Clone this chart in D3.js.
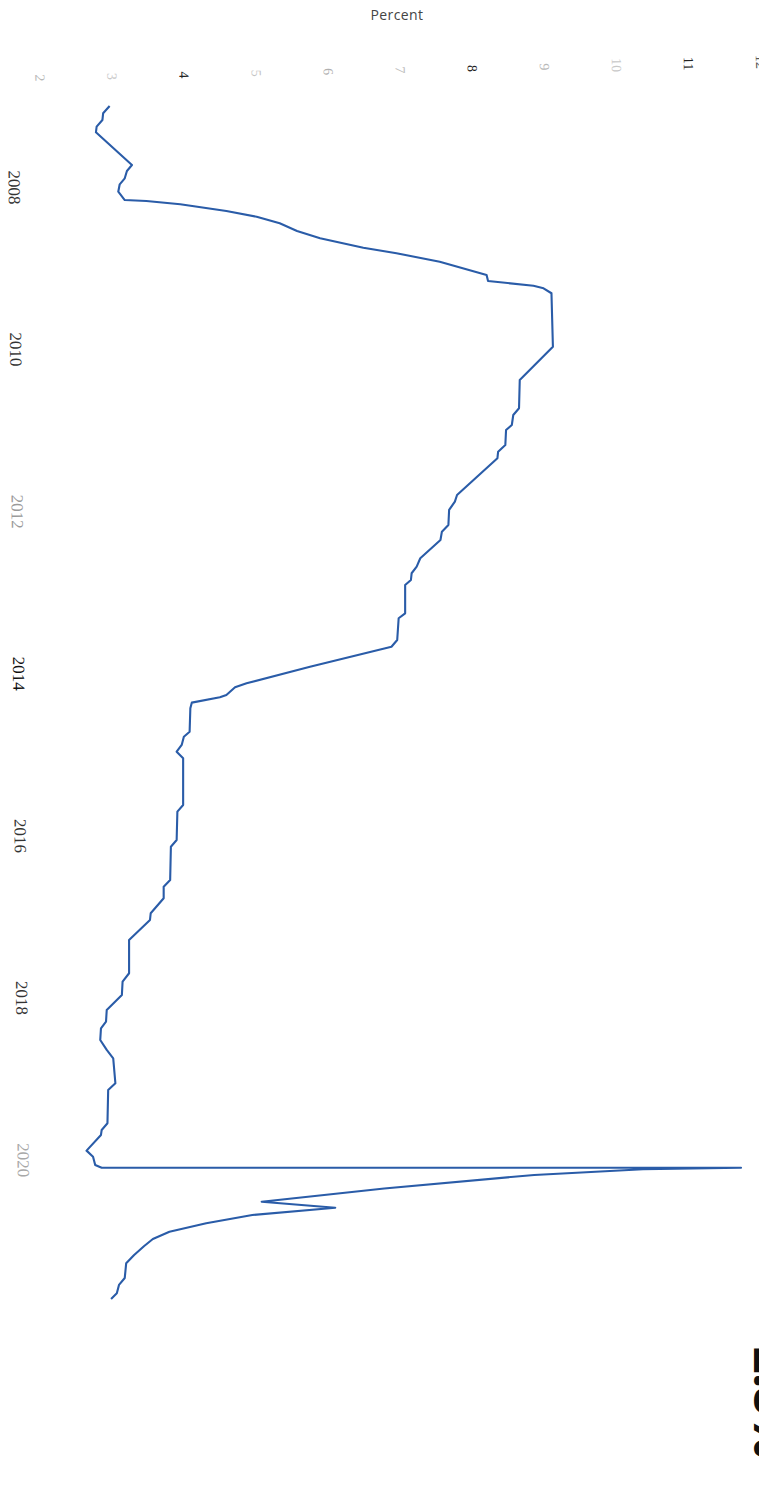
<!DOCTYPE html>
<html><head><meta charset="utf-8">
<script src="https://cdn.jsdelivr.net/npm/d3@7"></script>
<style>body{margin:0;background:#fff}svg{display:block}</style>
</head><body><svg id="c" width="759" height="1500"></svg>
<script>
// ---- data ----
const years = [2007.002, 2007.092, 2007.175, 2007.257, 2007.327, 2007.730, 2007.804, 2007.894, 2007.968, 2008.059,
  2008.162, 2008.174, 2008.215, 2008.297, 2008.368, 2008.449, 2008.544, 2008.634, 2008.750, 2008.819,
  2008.923, 2009.087, 2009.161, 2009.219, 2009.251, 2009.312, 2009.971, 2010.382, 2010.731, 2010.814,
  2010.937, 2010.999, 2011.184, 2011.266, 2011.348, 2011.800, 2011.883, 2011.985, 2012.170, 2012.253,
  2012.356, 2012.581, 2012.685, 2012.766, 2012.849, 2012.911, 2013.260, 2013.321, 2013.589, 2013.672,
  2013.918, 2014.123, 2014.172, 2014.267, 2014.296, 2014.362, 2014.432, 2014.720, 2014.782, 2014.884,
  2014.967, 2015.048, 2015.624, 2015.707, 2016.056, 2016.139, 2016.549, 2016.632, 2016.775, 2016.960,
  2017.043, 2017.290, 2017.700, 2017.804, 2017.968, 2018.153, 2018.297, 2018.379, 2018.523, 2018.646,
  2018.749, 2019.057, 2019.140, 2019.551, 2019.633, 2019.695, 2019.888, 2019.963, 2020.065, 2020.100,
  2020.100, 2020.118, 2020.188, 2020.355, 2020.518, 2020.592, 2020.682, 2020.784, 2020.888, 2020.978,
  2021.064, 2021.175, 2021.277, 2021.459, 2021.545, 2021.648, 2021.718];
const rates = [2.97, 2.88, 2.87, 2.79, 2.78, 3.28, 3.21, 3.18, 3.11, 3.09,
  3.18, 3.48, 3.95, 4.59, 5.01, 5.33, 5.57, 5.89, 6.49, 6.95,
  7.55, 8.20, 8.22, 8.85, 8.99, 9.10, 9.12, 8.66, 8.65, 8.57,
  8.55, 8.47, 8.46, 8.36, 8.35, 7.79, 7.76, 7.68, 7.67, 7.58,
  7.56, 7.28, 7.23, 7.16, 7.15, 7.07, 7.07, 6.98, 6.96, 6.88,
  5.75, 4.87, 4.71, 4.59, 4.50, 4.11, 4.09, 4.08, 4.00, 3.97,
  3.90, 3.99, 3.99, 3.91, 3.90, 3.82, 3.81, 3.72, 3.72, 3.54,
  3.53, 3.24, 3.24, 3.15, 3.14, 2.93, 2.92, 2.85, 2.84, 2.93,
  3.02, 3.05, 2.95, 2.94, 2.86, 2.85, 2.65, 2.74, 2.77, 2.86,
  11.73, 10.37, 8.86, 6.78, 5.08, 6.10, 4.95, 4.31, 3.80, 3.57,
  3.45, 3.31, 3.20, 3.18, 3.10, 3.07, 2.99];
const percentTicks = [2, 3, 4, 5, 6, 7, 8, 9, 10, 11, 12];
const yearTicks = [2008, 2010, 2012, 2014, 2016, 2018, 2020];
const axisTitle = "Percent";
const latestLabel = "2.8%";

// ---- styles (scan shading of individual labels) ----
const pctColor = {2:"#b8b8b8",3:"#c8c8c8",4:"#222",5:"#c4c4c4",6:"#b0b0b0",7:"#bdbdbd",8:"#222",9:"#b8b8b8",10:"#c8c8c8",11:"#222",12:"#555"};
const yrColor = {2008:"#333",2010:"#333",2012:"#9a9a9a",2014:"#111",2016:"#333",2018:"#333",2020:"#a8a8a8"};

const svg = d3.select("#c");
// chart is rotated 90deg clockwise: percent runs left->right, time runs top->bottom
const x = d3.scaleLinear().domain([2, 12]).range([39.7, 760.5]);
const y = d3.scaleLinear().domain([2008, 2020]).range([186.9, 1159.7]);

// title
svg.append("text").attr("x", 397).attr("y", 20).attr("text-anchor", "middle")
  .attr("font-family", "'Open Sans', sans-serif").attr("font-size", 14)
  .attr("letter-spacing", 0.4).attr("fill", "#444").text(axisTitle);

// percent axis (top)
const gx = svg.append("g").attr("transform", "rotate(-1.27, 39.7, 78) translate(0,78)")
  .call(d3.axisTop(x).tickValues(percentTicks).tickSize(0).tickFormat(d3.format("d")));
gx.select(".domain").remove();
gx.selectAll("text").attr("y", 0).attr("dy", "0.35em").attr("transform", "rotate(90)")
  .attr("text-anchor", "middle").attr("font-family", "'Liberation Serif', serif")
  .attr("font-size", 14).attr("fill", d => pctColor[d]);

// year axis (left)
const gy = svg.append("g").attr("transform", "rotate(-0.53, 14.5, 187) translate(14.5,0)")
  .call(d3.axisLeft(y).tickValues(yearTicks).tickSize(0).tickFormat(d3.format("d")));
gy.select(".domain").remove();
gy.selectAll("text").attr("x", 0).attr("dy", "0.35em").attr("transform", "rotate(90)")
  .attr("text-anchor", "middle").attr("font-family", "'Liberation Serif', serif")
  .attr("font-size", 17).attr("fill", d => yrColor[d]);

// line
const pts = years.map((t, i) => [t, rates[i]]);
const line = d3.line().x(d => x(d[1])).y(d => y(d[0]));
svg.append("path").datum(pts).attr("d", line).attr("fill", "none")
  .attr("stroke", "#2a5ca8").attr("stroke-width", 2.1).attr("stroke-linejoin", "round");

// big latest value (mostly off the right edge in the scan)
svg.append("text").attr("transform", "translate(754,1347) rotate(90)")
  .attr("font-family", "'Open Sans', sans-serif").attr("font-weight", 800)
  .attr("font-size", 46).attr("fill", "#111").text(latestLabel);
</script></body></html>
